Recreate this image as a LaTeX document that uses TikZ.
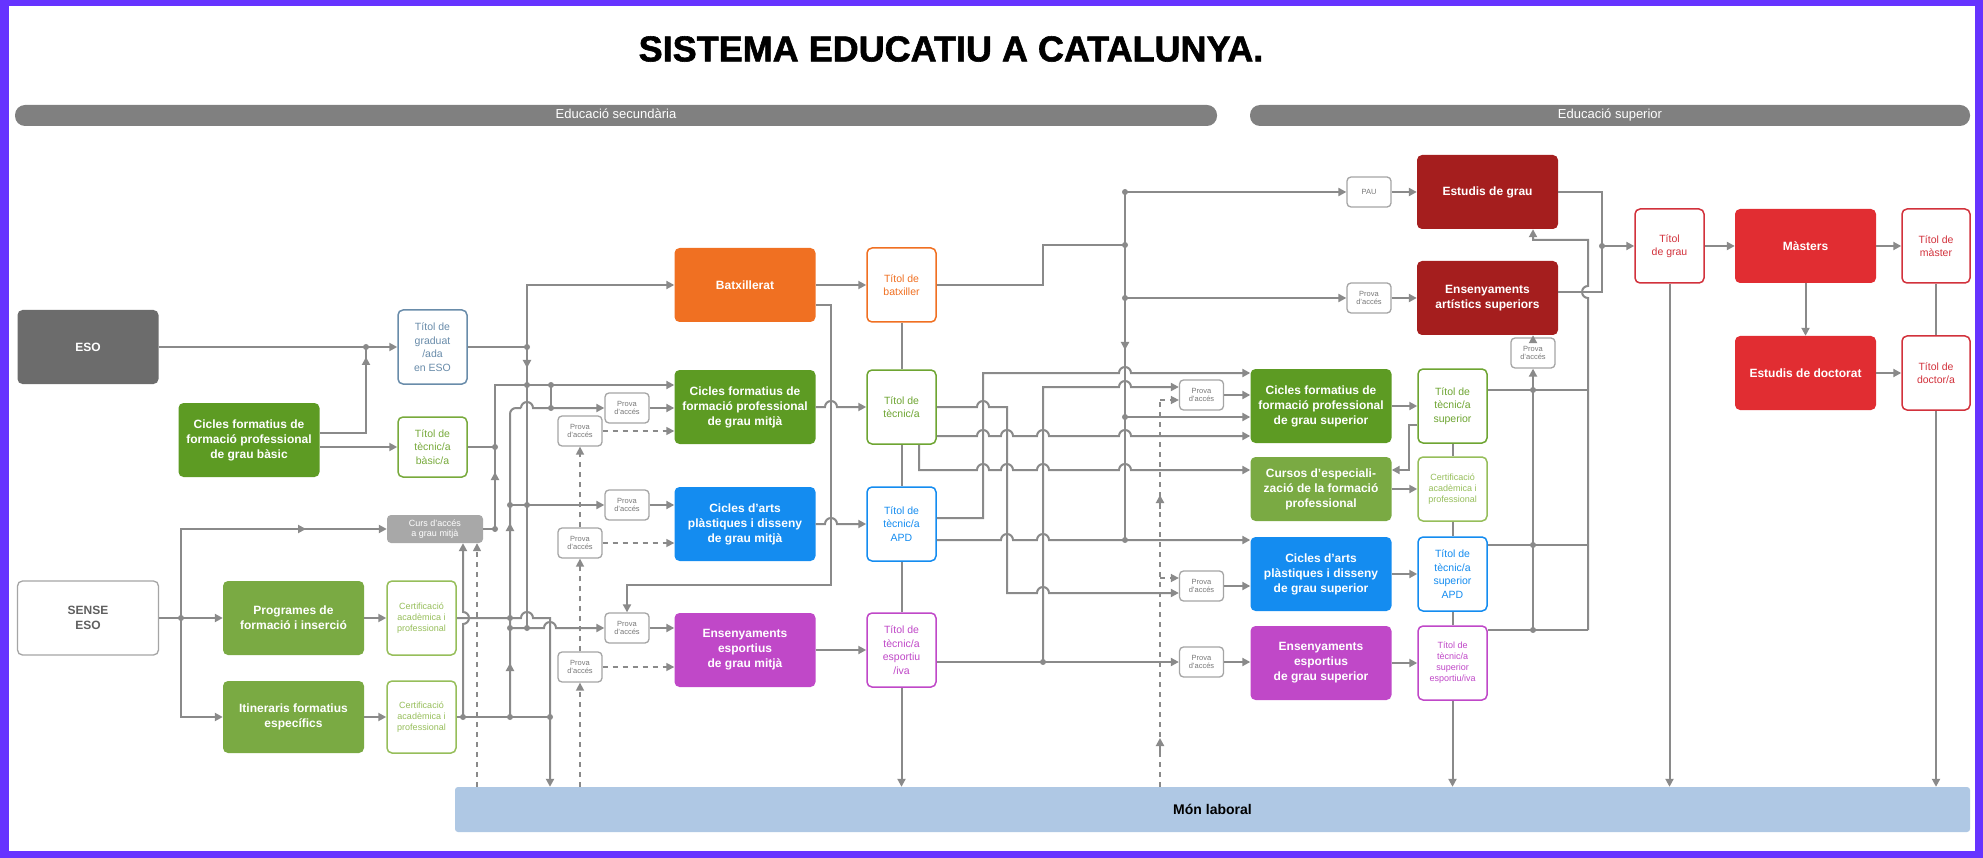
\documentclass[tikz,border=0pt]{standalone}
\usepackage{fontspec}
\setmainfont{Liberation Sans}
\newfontfamily\titlefont{Liberation Sans}[BoldFeatures={FakeBold=1.6}]
\usetikzlibrary{arrows.meta,calc}
\definecolor{frm}{RGB}{102,51,255}
\definecolor{lcol}{RGB}{138,138,138}
\definecolor{barc}{RGB}{128,128,128}
\definecolor{esoc}{RGB}{108,108,108}
\definecolor{gdark}{RGB}{93,155,35}
\definecolor{glight}{RGB}{122,170,67}
\definecolor{orng}{RGB}{240,112,34}
\definecolor{blu}{RGB}{20,140,240}
\definecolor{mag}{RGB}{192,72,200}
\definecolor{dred}{RGB}{165,30,30}
\definecolor{rd}{RGB}{225,45,50}
\definecolor{monc}{RGB}{175,200,228}
\definecolor{cursc}{RGB}{168,168,168}
\definecolor{gradc}{RGB}{105,140,170}
\definecolor{basc}{RGB}{120,170,60}
\definecolor{certc}{RGB}{150,190,90}
\definecolor{tgreen}{RGB}{110,165,50}
\definecolor{rtext}{RGB}{210,50,60}
\definecolor{pcol}{RGB}{165,165,165}
\definecolor{ptext}{RGB}{120,120,120}
\definecolor{sensec}{RGB}{95,95,95}
\newcommand\jdot[1]{\fill[lcol] (#1) circle (3pt);}
\tikzset{
  ln/.style={draw=lcol, line width=2pt},
  arr/.style={ln, -{Triangle[length=8pt,width=8pt]}},
  dsh/.style={draw=lcol, line width=1.6pt, dash pattern=on 5pt off 5pt},
  fbx/.style={fill=#1, rounded corners=5pt, minimum width=141pt, minimum height=74pt, inner sep=0pt, align=center, text=white, font=\fontsize{12}{15}\selectfont\bfseries},
  tbx/.style={draw=#1, fill=white, line width=1.5pt, rounded corners=5pt, minimum width=69pt, minimum height=74pt, inner sep=0pt, align=center, text=#1, font=\fontsize{10.5}{13.5}\selectfont},
  pbx/.style={draw=pcol, fill=white, line width=1.3pt, rounded corners=4pt, minimum width=44pt, minimum height=30pt, inner sep=0pt, align=center, text=ptext, font=\fontsize{7.5}{8.5}\selectfont},
  certf/.style={font=\fontsize{9}{11}\selectfont},
  barbx/.style={fill=barc, rounded corners=10pt, minimum height=21pt, inner sep=0pt, text=white, text height=9.5pt, text depth=2.5pt, font=\fontsize{13}{13}\selectfont},
}
\begin{document}
\begin{tikzpicture}[x=1pt,y=-1pt]
\fill[frm] (0,0) rectangle (1983,858);
\fill[white] (9,6) rectangle (1975,851);
\useasboundingbox (0,0) rectangle (1983,858);

\node[font=\fontsize{36}{40}\titlefont\bfseries] (title) at (951,49) {SISTEMA EDUCATIU A CATALUNYA.};
\node[barbx, minimum width=1202pt] (barsec) at (616,115.5) {Educació secundària};
\node[barbx, minimum width=720pt] (barsup) at (1610,115.5) {Educació superior};

% left column
\node[fbx=esoc] (eso) at (88,347) {ESO};
\node[fbx=white, draw=pcol, line width=1.3pt, text=sensec] (sense) at (88,618) {SENSE\\ESO};
\node[fbx=gdark] (cfgb) at (249,440) {Cicles formatius de\\formació professional\\de grau bàsic};
\node[tbx=gradc] (tgrad) at (432.5,347) {Títol de\\graduat\\/ada\\en ESO};
\node[tbx=basc, minimum height=60pt] (tbas) at (432.5,447) {Títol de\\tècnic/a\\bàsic/a};
\node[fill=cursc, rounded corners=4pt, minimum width=96pt, minimum height=28pt, inner sep=0pt, align=center, text=white, font=\fontsize{9}{10.5}\selectfont] (curs) at (435,529) {Curs d'accés\\a grau mitjà};
\node[fbx=glight] (prog) at (293.5,618) {Programes de\\formació i inserció};
\node[tbx=certc, certf] (cert1) at (421.5,618) {Certificació\\acadèmica i\\professional};
\node[fbx=glight, minimum height=72pt] (itin) at (293.5,717) {Itineraris formatius\\específics};
\node[tbx=certc, certf, minimum height=72pt] (cert2) at (421.5,717) {Certificació\\acadèmica i\\professional};

% middle
\node[fbx=orng] (batx) at (745,285) {Batxillerat};
\node[tbx=orng] (tbatx) at (901.5,285) {Títol de\\batxiller};
\node[fbx=gdark] (cfgm) at (745,407) {Cicles formatius de\\formació professional\\de grau mitjà};
\node[tbx=tgreen] (ttec) at (901.5,407) {Títol de\\tècnic/a};
\node[fbx=blu] (capd) at (745,524) {Cicles d'arts\\plàstiques i disseny\\de grau mitjà};
\node[tbx=blu] (tapd) at (901.5,524) {Títol de\\tècnic/a\\APD};
\node[fbx=mag] (eem) at (745,650) {Ensenyaments\\esportius\\de grau mitjà};
\node[tbx=mag] (tesp) at (901.5,650) {Títol de\\tècnic/a\\esportiu\\/iva};
\node[pbx] (p1) at (627,408) {Prova\\d'accés};
\node[pbx] (p2) at (580,431) {Prova\\d'accés};
\node[pbx] (p3) at (627,505) {Prova\\d'accés};
\node[pbx] (p4) at (580,543) {Prova\\d'accés};
\node[pbx] (p5) at (627,628) {Prova\\d'accés};
\node[pbx] (p6) at (580,667) {Prova\\d'accés};

% right
\node[fbx=dred] (eg) at (1487.5,192) {Estudis de grau};
\node[fbx=dred] (eas) at (1487.5,298) {Ensenyaments\\artístics superiors};
\node[pbx] (pau) at (1369,192) {PAU};
\node[pbx] (peas) at (1369,298) {Prova\\d'accés};
\node[pbx] (pv) at (1533,353) {Prova\\d'accés};
\node[tbx=rtext] (tgrau) at (1669.5,246) {Títol\\de grau};
\node[fbx=rd] (mast) at (1805.5,246) {Màsters};
\node[tbx=rtext, minimum width=68pt] (tmast) at (1936,246) {Títol de\\màster};
\node[fbx=rd] (doct) at (1805.5,373) {Estudis de doctorat};
\node[tbx=rtext, minimum width=68pt] (tdoct) at (1936,373) {Títol de\\doctor/a};
\node[fbx=gdark] (cfgs) at (1321,406) {Cicles formatius de\\formació professional\\de grau superior};
\node[tbx=tgreen] (ttsup) at (1452.5,406) {Títol de\\tècnic/a\\superior};
\node[fbx=glight, minimum height=64pt] (cesp) at (1321,489) {Cursos d'especiali-\\zació de la formació\\professional};
\node[tbx=certc, certf, minimum height=64pt] (cert3) at (1452.5,489) {Certificació\\acadèmica i\\professional};
\node[fbx=blu] (capds) at (1321,574) {Cicles d'arts\\plàstiques i disseny\\de grau superior};
\node[tbx=blu] (tsapd) at (1452.5,574) {Títol de\\tècnic/a\\superior\\APD};
\node[fbx=mag] (eesup) at (1321,663) {Ensenyaments\\esportius\\de grau superior};
\node[tbx=mag, certf] (tsesp) at (1452.5,663) {Títol de\\tècnic/a\\superior\\esportiu/iva};
\node[pbx] (pcfgs) at (1201.5,395) {Prova\\d'accés};
\node[pbx] (pcapds) at (1201.5,586) {Prova\\d'accés};
\node[pbx] (peesup) at (1201.5,662) {Prova\\d'accés};

\node[fill=monc, rounded corners=3pt, minimum width=1515pt, minimum height=45pt, inner sep=0pt, font=\fontsize{14}{14}\selectfont\bfseries] (mon) at (1212.5,809.5) {Món laboral};

% ---------- connectors: left ----------
\coordinate (jA) at (366,347);
\draw[arr] (eso.east) -- (tgrad.west);
\draw[ln] ($(cfgb.east)+(0,-7)$) -| (jA);
\draw[arr] ($(jA)+(0,20)$) -- ($(jA)+(0,10)$);
\jdot{jA}
\draw[arr] (cfgb.east |- tbas.west) -- (tbas.west);

\coordinate (v1t) at (527,285);
\coordinate (v1g) at (527,347);
\coordinate (v1b) at (527,628);
\draw[ln] (tgrad.east) -- (v1g);
\draw[arr] (v1b) -- (v1t) -- (batx.west);
\draw[arr] (v1g) -- (527,368);
\jdot{v1g} \jdot{527,385} \jdot{527,505} \jdot{v1b}

\coordinate (v2t) at (495,385);
\draw[arr] (curs.east) -| (v2t) -- (cfgm.west |- v2t);
\draw[arr] (495,492) -- (495,472);
\draw[ln] (tbas.east) -- (495,447);
\jdot{495,447} \jdot{495,529} \jdot{551,385} \jdot{551,408}
\draw[ln] (551,385) -- (551,408);

\draw[ln, rounded corners=6pt] (510,717) -- (510,408) -- (521,408);
\draw[arr] (521,408) arc[start angle=180,end angle=360,radius=6] -- (p1.west);
\draw[arr] (510,540) -- (510,523);
\draw[arr] (510,680) -- (510,663);
\draw[arr] (p1.east) -- (cfgm.west |- p1.east);
\draw[arr,dsh] (p2.east) -- (cfgm.west |- p2.east);
\draw[arr] (510,505) -- (p3.west);
\draw[arr] (p3.east) -- (capd.west |- p3.east);
\draw[arr,dsh] (p4.east) -- (capd.west |- p4.east);
\draw[arr] (510,628) -- (544,628) arc[start angle=180,end angle=360,radius=6] -- (p5.west);
\draw[arr] (p5.east) -- (eem.west |- p5.east);
\draw[arr,dsh] (p6.east) -- (eem.west |- p6.east);
\jdot{510,505} \jdot{510,618} \jdot{510,628} \jdot{510,717}

\draw[arr] ($(batx.east)+(0,20)$) -| (831,585) -| (p5.north);

\draw[arr] (cert1.east) -- (521,618) arc[start angle=180,end angle=360,radius=6] -- (550,618) -- (mon.north -| 550,0);
\draw[ln] (cert2.east) -- (550,717);
\jdot{463,717} \jdot{550,717}
\draw[arr] (463,717) -- (463,624) arc[start angle=90,end angle=-90,radius=6] -- (curs.south -| 463,0);
\draw[arr,dsh] (mon.north -| 477,0) -- (curs.south -| 477,0);
\draw[arr,dsh] (mon.north -| p6.south) -- (p6.south);
\draw[arr,dsh] (p6.north) -- (p4.south);
\draw[arr,dsh] (p4.north) -- (p2.south);

\draw[arr] (sense.east) -- (prog.west);
\draw[arr] (181,618) |- (curs.west);
\draw[arr] (181,618) |- (itin.west);
\draw[arr] (181,529) -- (306,529);
\jdot{181,618}
\draw[arr] (prog.east) -- (cert1.west);
\draw[arr] (itin.east) -- (cert2.west);

% ---------- connectors: middle ----------
\draw[arr] (batx.east) -- (tbatx.west);
\draw[arr] (cfgm.east) -- (825,407) arc[start angle=180,end angle=360,radius=6] -- (ttec.west);
\draw[arr] (capd.east) -- (825,524) arc[start angle=180,end angle=360,radius=6] -- (tapd.west);
\draw[arr] (eem.east) -- (tesp.west);
\draw[ln] (tbatx.south) -- (ttec.north);
\draw[ln] (ttec.south) -- (tapd.north);
\draw[ln] (tapd.south) -- (tesp.north);
\draw[arr] (tesp.south) -- (mon.north -| tesp.south);

\draw[ln] (tbatx.east) -- (1043,285) -- (1043,245) -- (1125,245);
\draw[ln] (1125,192) -- (1125,540);
\draw[arr] (1125,330) -- (1125,350);
\draw[arr] (1125,192) -- (pau.west);
\draw[arr] (1125,298) -- (peas.west);
\draw[arr] (pau.east) -- (eg.west |- pau.east);
\draw[arr] (peas.east) -- (eas.west |- peas.east);
\draw[arr] (1125,417) -- (cfgs.west |- 1125,417);
\jdot{1125,192} \jdot{1125,245} \jdot{1125,298} \jdot{1125,417} \jdot{1125,540}

\draw[arr] ($(ttec.east)+(0,29)$) -- (977,436) arc[start angle=180,end angle=360,radius=6]
  -- (1001,436) arc[start angle=180,end angle=360,radius=6]
  -- (1037,436) arc[start angle=180,end angle=360,radius=6]
  -- (1119,436) arc[start angle=180,end angle=360,radius=6] -- (cfgs.west |- 1125,436);
\draw[arr] (ttec.east) -- (977,407) arc[start angle=180,end angle=360,radius=6] -- (1007,407) -- (1007,593)
  -- (1037,593) arc[start angle=180,end angle=360,radius=6] -- (pcapds.west |- 1007,593);
\draw[arr] ($(ttec.south)+(17.5,0)$) -- (919,470) -- (977,470) arc[start angle=180,end angle=360,radius=6]
  -- (1001,470) arc[start angle=180,end angle=360,radius=6]
  -- (1037,470) arc[start angle=180,end angle=360,radius=6]
  -- (1119,470) arc[start angle=180,end angle=360,radius=6] -- (cesp.west |- 1125,470);
\draw[arr] ($(tapd.east)+(0,-6)$) -- (983,518) -- (983,373) -- (1119,373) arc[start angle=180,end angle=360,radius=6] -- (cfgs.west |- 1125,373);
\draw[arr] ($(tapd.east)+(0,16)$) -- (1001,540) arc[start angle=180,end angle=360,radius=6]
  -- (1037,540) arc[start angle=180,end angle=360,radius=6] -- (capds.west |- 1125,540);
\draw[arr] ($(tesp.east)+(0,12)$) -- (peesup.west);
\draw[arr] (1043,662) -- (1043,387) -- (1119,387) arc[start angle=180,end angle=360,radius=6] -- (pcfgs.west |- 1125,387);
\jdot{1043,662}
\draw[arr] (pcfgs.east) -- (cfgs.west |- pcfgs.east);
\draw[arr] (pcapds.east) -- (capds.west |- pcapds.east);
\draw[arr] (peesup.east) -- (eesup.west |- peesup.east);

\draw[dsh] (mon.north -| 1160,0) -- (1160,400);
\draw[arr,dsh] (1160,400) -- (pcfgs.west |- 1160,400);
\draw[arr,dsh] (1160,578) -- (pcapds.west |- 1160,578);
\draw[arr] (1160,752) -- (1160,738);
\draw[arr] (1160,509) -- (1160,495);

% ---------- connectors: right ----------
\draw[arr] (cfgs.east) -- (ttsup.west);
\draw[arr] (cesp.east) -- (cert3.west);
\draw[arr] (capds.east) -- (tsapd.west);
\draw[arr] (eesup.east) -- (tsesp.west);
\draw[ln] (ttsup.south) -- (cert3.north);
\draw[ln] (cert3.south) -- (tsapd.north);
\draw[ln] (tsapd.south) -- (tsesp.north);
\draw[arr] (tsesp.south) -- (mon.north -| tsesp.south);
\draw[arr] ($(ttsup.west)+(0,19)$) -- (1409,425) -- (1409,470) -- (cesp.east |- 1409,470);

\draw[ln] ($(ttsup.east)+(0,-16)$) -- (1588,390);
\draw[ln] ($(tsapd.east)+(0,-29)$) -- (1588,545);
\draw[ln] ($(tsesp.east)+(0,-33)$) -- (1588,630);
\draw[arr] (1588,630) -- (1588,298) arc[start angle=90,end angle=270,radius=6] -- (1588,240) -- (1533,240) -- (eg.south -| 1533,0);
\draw[arr] (1533,630) -- (pv.south);
\draw[arr] (pv.north) -- (eas.south -| pv.north);
\jdot{1533,390} \jdot{1533,545} \jdot{1533,630}

\draw[ln] (eg.east) -- (1602,192) -- (1602,292) -- (eas.east |- 1602,292);
\draw[arr] (1602,246) -- (tgrau.west);
\jdot{1602,246}
\draw[arr] (tgrau.east) -- (mast.west);
\draw[arr] (mast.east) -- (tmast.west);
\draw[arr] (mast.south) -- (doct.north);
\draw[arr] (doct.east) -- (tdoct.west);
\draw[ln] (tmast.south) -- (tdoct.north);
\draw[arr] (tdoct.south) -- (mon.north -| tdoct.south);
\draw[arr] (tgrau.south) -- (mon.north -| tgrau.south);
\end{tikzpicture}
\end{document}
